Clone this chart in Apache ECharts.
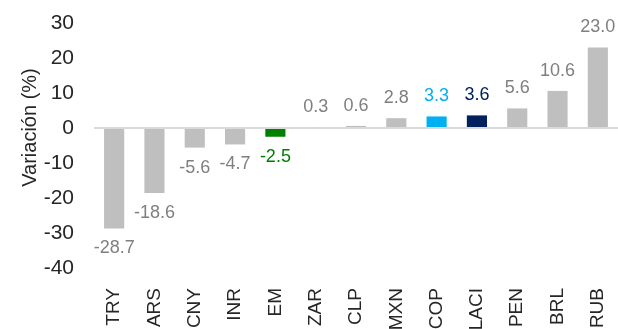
<!DOCTYPE html>
<html>
<head>
<meta charset="utf-8">
<script src="https://cdn.jsdelivr.net/npm/echarts@6/dist/echarts.min.js"></script>
<style>
html,body{margin:0;padding:0;background:#fff;}
#c{width:618px;height:329px;}
</style>
</head>
<body>
<div id="c"></div>
<script>
const categories = ['TRY','ARS','CNY','INR','EM','ZAR','CLP','MXN','COP','LACI','PEN','BRL','RUB'];
const values = [-28.7,-18.6,-5.6,-4.7,-2.5,0.3,0.6,2.8,3.3,3.6,5.6,10.6,23.0];
const yTicks = [-40,-30,-20,-10,0,10,20,30];
const yAxisName = 'Variación (%)';

const specialColors = { EM: '#008000', COP: '#00B0F0', LACI: '#002060' };
const baseBar = '#BFBFBF';
const baseLabel = '#7F7F7F';

const data = categories.map((c, i) => {
  const v = values[i];
  const sc = specialColors[c];
  return {
    value: v,
    itemStyle: { color: sc || baseBar },
    label: {
      position: v < 0 ? 'bottom' : 'top',
      color: sc || baseLabel
    }
  };
});

const chart = echarts.init(document.getElementById('c'), null, { renderer: 'canvas' });
chart.setOption({
  animation: false,
  grid: { left: 94, right: 0, top: 23, bottom: 61, containLabel: false, outerBoundsMode: 'none' },
  xAxis: {
    type: 'category',
    data: categories,
    axisLine: { show: false, onZero: false },
    axisTick: { show: false },
    axisLabel: {
      rotate: 90,
      margin: 20,
      interval: 0,
      fontSize: 19,
      fontFamily: '"Liberation Sans", Arial, sans-serif',
      color: '#262626'
    }
  },
  yAxis: {
    type: 'value',
    min: yTicks[0],
    max: yTicks[yTicks.length - 1],
    interval: 10,
    splitLine: { show: false },
    axisLine: { show: false },
    axisTick: { show: false },
    axisLabel: {
      margin: 20,
      fontSize: 21,
      fontFamily: '"Liberation Sans", Arial, sans-serif',
      color: '#262626'
    },
    name: yAxisName,
    nameLocation: 'middle',
    nameGap: 54,
    nameMoveOverlap: false,
    nameTextStyle: {
      fontSize: 20,
      fontFamily: '"Liberation Sans", Arial, sans-serif',
      color: '#262626',
      padding: [0, 0, 0, 36]
    }
  },
  series: [{
    type: 'bar',
    data: data,
    barWidth: '50%',
    label: {
      show: true,
      distance: 11,
      fontSize: 18,
      fontFamily: '"Liberation Sans", Arial, sans-serif',
      formatter: p => p.value.toFixed(1)
    },
    markLine: {
      silent: true,
      symbol: 'none',
      label: { show: false },
      lineStyle: { color: '#D9D9D9', width: 2, type: 'solid' },
      data: [{ yAxis: 0 }]
    }
  }]
});
</script>
</body>
</html>
